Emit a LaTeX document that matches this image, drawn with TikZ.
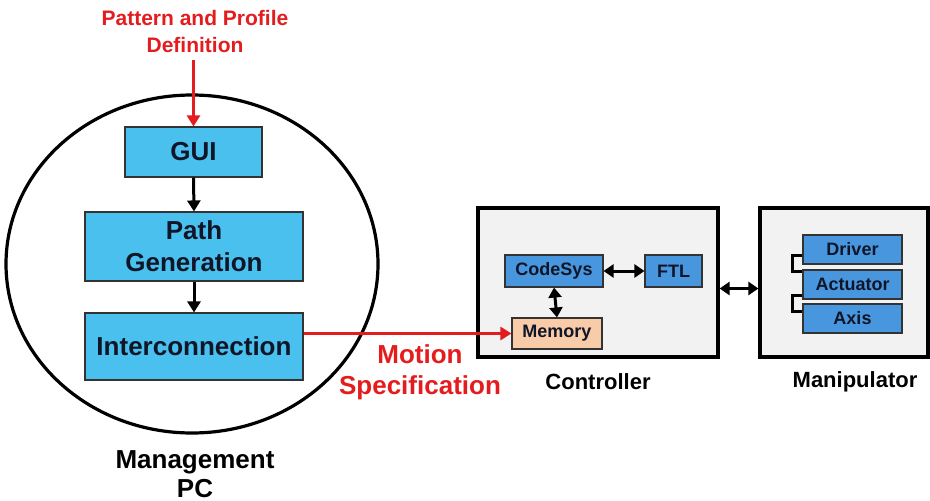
\documentclass[tikz,border=0pt]{standalone}
\usepackage{fontspec}
\setmainfont{Liberation Sans}
\usetikzlibrary{arrows.meta,shapes.geometric}

\definecolor{pcblue}{RGB}{74,192,238}
\definecolor{ctblue}{RGB}{72,150,222}
\definecolor{mempeach}{RGB}{248,204,168}
\definecolor{panelgray}{RGB}{242,242,242}
\definecolor{sigred}{RGB}{228,28,30}
\definecolor{boxtext}{RGB}{16,22,40}

\tikzset{
  pcbox/.style={draw=black!80, line width=1.1pt, fill=pcblue, inner sep=0pt,
    text=boxtext, font=\bfseries\fontsize{26}{31}\selectfont, align=center},
  ctbox/.style={draw=black!80, line width=1.1pt, fill=ctblue, inner sep=0pt,
    text=boxtext, font=\bfseries\fontsize{18}{22}\selectfont},
  membox/.style={ctbox, fill=mempeach},
  panel/.style={draw=black, line width=3.2pt, fill=panelgray, inner sep=0pt},
  flow/.style={line width=3pt, -{Triangle[length=11pt,width=13pt]}},
  link/.style={line width=3pt, {Triangle[length=10pt,width=13pt]}-{Triangle[length=10pt,width=13pt]}},
  sig/.style={draw=sigred, line width=3pt, -{Triangle[length=11pt,width=13pt]}},
  brk/.style={line width=2.6pt},
  caption/.style={font=\bfseries\fontsize{22}{27}\selectfont, align=center},
}

\begin{document}
\begin{tikzpicture}[x=1pt,y=-1pt]
  \useasboundingbox (0,0) rectangle (930,501);

  % management PC
  \node[ellipse, draw=black, line width=3.2pt, minimum width=372pt,
        minimum height=338pt, inner sep=0pt] (pc) at (192,264) {};
  \node[pcbox, minimum width=137pt, minimum height=50pt] (gui) at (193.5,152) {GUI};
  \node[pcbox, minimum width=218pt, minimum height=69pt] (path) at (194,246.5)
       {Path\\[1pt]Generation};
  \node[pcbox, minimum width=218pt, minimum height=67pt] (inter) at (194,346.5)
       {Interconnection};

  \node[caption, text=sigred, font=\bfseries\fontsize{21}{27}\selectfont]
       (pattern) at (195,31) {Pattern and Profile\\Definition};
  \coordinate (patfoot) at (193.5,60);
  \node[caption, font=\bfseries\fontsize{26}{29}\selectfont] (pclabel) at (195,474)
       {Management\\PC};

  \draw[sig] (patfoot) -- (gui.north);
  \draw[flow] (gui.south) -- (path.north);
  \draw[flow] (path.south) -- (inter.north);

  % controller
  \node[panel, minimum width=240pt, minimum height=149pt] (ctrl) at (598,282.5) {};
  \node[ctbox, minimum width=98pt, minimum height=32pt] (cs) at (554,271) {CodeSys};
  \node[ctbox, minimum width=57pt, minimum height=32pt] (ftl) at (673.5,271) {FTL};
  \node[membox, minimum width=90pt, minimum height=31pt] (mem) at (557,333.5) {Memory};
  \node[caption] (ctrllabel) at (598,382) {Controller};

  \draw[link] (cs.east) -- (ftl.west);
  \draw[link] (cs.south) -- (mem.north);

  % manipulator
  \node[panel, minimum width=168pt, minimum height=149pt] (manip) at (844,282.5) {};
  \node[ctbox, minimum width=99pt, minimum height=29pt] (drv) at (852.5,249.5) {Driver};
  \node[ctbox, minimum width=99pt, minimum height=29pt] (act) at (852.5,284.5) {Actuator};
  \node[ctbox, minimum width=99pt, minimum height=29pt] (axs) at (852.5,318.5) {Axis};
  \node[caption] (maniplabel) at (855,382) {Manipulator};

  \draw[brk] ([yshift=9pt]drv.south west) -- ++(-10,0) |- ([yshift=-2pt]act.north west);
  \draw[brk] ([yshift=4pt]act.south west) -- ++(-10,0) |- ([yshift=-8pt]axs.north west);

  \draw[link] ([yshift=-6pt]ctrl.east) -- ([yshift=-6pt]manip.west);

  % motion specification
  \draw[sig] (inter.east |- mem.west) -- (mem.west);
  \node[caption, text=sigred, font=\bfseries\fontsize{26}{31}\selectfont]
       (motion) at (420,372) {Motion\\Specification};
\end{tikzpicture}
\end{document}
